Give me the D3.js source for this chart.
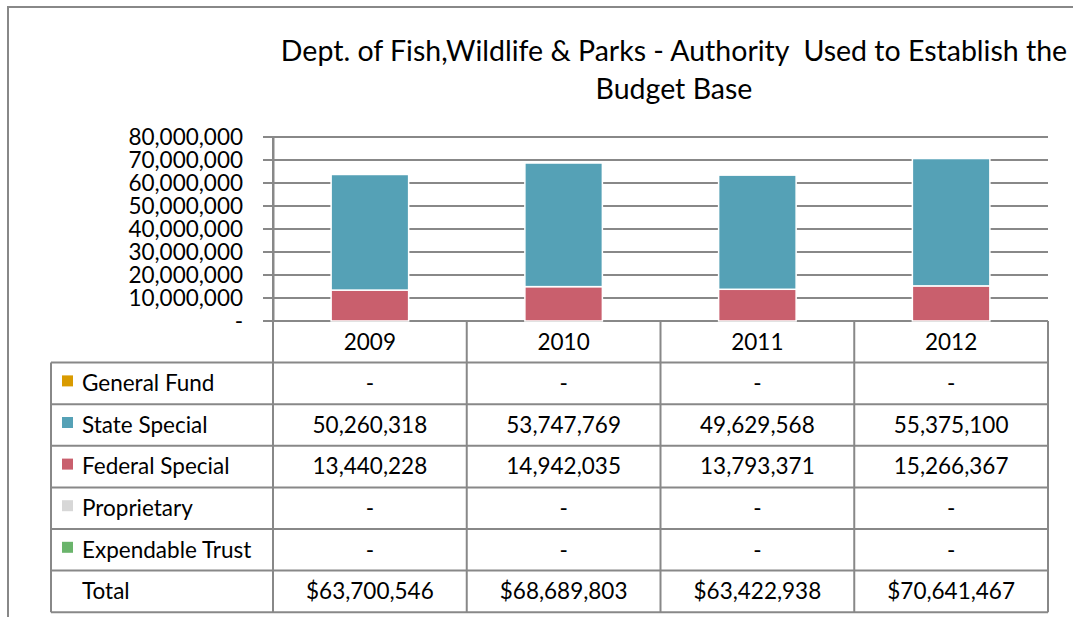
<!DOCTYPE html>
<html>
<head>
<meta charset="utf-8">
<script src="https://cdn.jsdelivr.net/npm/d3@7"></script>
<style>
  body { margin: 0; background: #fff; }
  svg text { font-family: Lato, "Open Sans", sans-serif; fill: #000; }
</style>
</head>
<body>
<div id="chart"></div>
<script>
// data
let years = ['2009', '2010', '2011', '2012'];
let seriesNames = ['General Fund', 'State Special', 'Federal Special', 'Proprietary', 'Expendable Trust'];
let seriesColors = ['#d99b00', '#55a1b6', '#c95f6d', '#d7d7d7', '#6ab46b'];
let generalFund = [0, 0, 0, 0];
let stateSpecial = [50260318, 53747769, 49629568, 55375100];
let federalSpecial = [13440228, 14942035, 13793371, 15266367];
let proprietary = [0, 0, 0, 0];
let expendableTrust = [0, 0, 0, 0];
let totals = [63700546, 68689803, 63422938, 70641467];
let yTicks = [0, 10000000, 20000000, 30000000, 40000000, 50000000, 60000000, 70000000, 80000000];

let seriesValues = [generalFund, stateSpecial, federalSpecial, proprietary, expendableTrust];

let W = 1073, H = 617;
let gridColor = '#888';

let svg = d3.select('#chart').append('svg')
    .attr('width', W)
    .attr('height', H);

// outer frame (runs off the picture to the right/bottom)
svg.append('rect')
    .attr('x', 8).attr('y', 7)
    .attr('width', 1200).attr('height', 800)
    .attr('fill', 'none')
    .attr('stroke', gridColor)
    .attr('stroke-width', 2);

// title
let title = svg.append('text')
    .attr('text-anchor', 'middle')
    .style('white-space', 'pre')
    .style('font-size', '28.5px');
title.append('tspan').attr('x', 674).attr('y', 61)
    .text('Dept. of Fish,Wildlife & Parks - Authority  Used to Establish the');
title.append('tspan').attr('x', 674).attr('y', 99)
    .text('Budget Base');

let x = d3.scaleBand()
    .domain(years)
    .range([273, 1048]);

let y = d3.scaleLinear()
    .domain([0, 80000000])
    .range([321, 137]);

// gridlines
svg.append('g')
    .selectAll('line')
    .data(yTicks)
    .join('line')
    .attr('x1', 263).attr('x2', 1048)
    .attr('y1', d => y(d)).attr('y2', d => y(d))
    .attr('stroke', gridColor)
    .attr('stroke-width', 2);

// y axis
let fmt = d3.format(',');
let yAxis = svg.append('g')
    .attr('transform', 'translate(273,0)')
    .call(d3.axisLeft(y).tickValues(yTicks).tickSize(0).tickPadding(30)
        .tickFormat(d => d === 0 ? '-' : fmt(d)));
yAxis.select('.domain').attr('stroke', gridColor).attr('stroke-width', 2);
yAxis.selectAll('text')
    .style('font-family', 'Lato, sans-serif')
    .style('font-size', '22.5px');

// stacked bars, federal at the bottom as in the picture
let stackOrder = [2, 1, 0, 3, 4];
let bars = svg.append('g');
years.forEach(function(yr, i) {
    let base = 0;
    stackOrder.forEach(function(s) {
        let v = seriesValues[s][i];
        if (v > 0) {
            let bw = x.bandwidth() * 0.4;
            bars.append('rect')
                .attr('x', x(yr) + (x.bandwidth() - bw) / 2)
                .attr('y', y(base + v))
                .attr('width', bw)
                .attr('height', y(base) - y(base + v))
                .attr('fill', seriesColors[s])
                .attr('stroke', '#fff')
                .attr('stroke-width', 1.5);
        }
        base += v;
    });
});

// data table
let rowTop = 321, rowH = 41.6, tableLeft = 51;
let rows = seriesNames.map(function(name, s) {
    return {label: name, color: seriesColors[s], vals: seriesValues[s].map(v => v === 0 ? '-' : fmt(v))};
});
rows.push({label: 'Total', color: null, vals: totals.map(v => '$' + fmt(v))});

let table = svg.append('g');
// header row
table.selectAll('.hdr')
    .data(years)
    .join('text')
    .attr('class', 'hdr')
    .attr('x', d => x(d) + x.bandwidth() / 2)
    .attr('y', rowTop + rowH / 2)
    .attr('dy', '0.35em')
    .attr('text-anchor', 'middle')
    .style('font-size', '22.5px')
    .text(d => d);

let bodyTop = rowTop + rowH;
let bodyBottom = bodyTop + rows.length * rowH;

rows.forEach(function(r, k) {
    let cy = bodyTop + k * rowH + rowH / 2;
    if (r.color) {
        table.append('rect')
            .attr('x', 62).attr('y', cy - 8)
            .attr('width', 11).attr('height', 11)
            .attr('fill', r.color);
    }
    table.append('text')
        .attr('x', 82).attr('y', cy)
        .attr('dy', '0.35em')
        .style('font-size', '22.5px')
        .text(r.label);
    r.vals.forEach(function(v, i) {
        table.append('text')
            .attr('x', x(years[i]) + x.bandwidth() / 2)
            .attr('y', cy)
            .attr('dy', '0.35em')
            .attr('text-anchor', 'middle')
            .style('font-size', '22.5px')
            .text(v);
    });
});

// table lines
let hLines = d3.range(rows.length + 1).map(k => bodyTop + k * rowH);
table.selectAll('.hl')
    .data(hLines)
    .join('line')
    .attr('class', 'hl')
    .attr('x1', tableLeft).attr('x2', 1048)
    .attr('y1', d => d).attr('y2', d => d)
    .attr('stroke', gridColor).attr('stroke-width', 2);
table.append('line')
    .attr('x1', tableLeft).attr('x2', tableLeft)
    .attr('y1', bodyTop).attr('y2', bodyBottom)
    .attr('stroke', gridColor).attr('stroke-width', 2);
let vLines = years.map(d => x(d)).concat([x.range()[1]]);
table.selectAll('.vl')
    .data(vLines)
    .join('line')
    .attr('class', 'vl')
    .attr('x1', d => d).attr('x2', d => d)
    .attr('y1', (d, i) => i === 0 ? 137 : rowTop).attr('y2', bodyBottom)
    .attr('stroke', gridColor).attr('stroke-width', 2);
</script>
</body>
</html>
